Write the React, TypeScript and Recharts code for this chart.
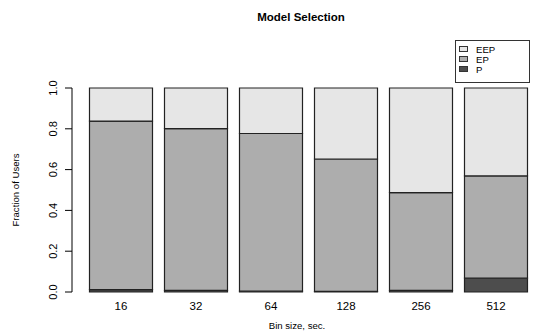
import React from 'react';
import { BarChart, Bar, XAxis, YAxis, Label } from 'recharts';

// share of users choosing each model, per bin size
const binSizes = ['16', '32', '64', '128', '256', '512'];
const pShare = [0.012, 0.008, 0.004, 0.003, 0.008, 0.068];
const epShare = [0.826, 0.793, 0.773, 0.649, 0.479, 0.501];
const eepShare = [0.162, 0.199, 0.223, 0.348, 0.513, 0.431];
const yTicks = [0, 0.2, 0.4, 0.6, 0.8, 1.0];

const series = [
  { key: 'P', fill: '#4d4d4d' },
  { key: 'EP', fill: '#adadad' },
  { key: 'EEP', fill: '#e6e6e6' },
];

const data = binSizes.map((bin, i) => ({
  bin,
  P: pShare[i],
  EP: epShare[i],
  EEP: eepShare[i],
}));

const FONT = '"Liberation Sans", Arial, Helvetica, sans-serif';

const YTick = ({ y, payload }: any) => (
  <text
    x={57}
    y={y}
    transform={`rotate(-90, 57, ${y})`}
    textAnchor="middle"
    fontSize={11}
    fontFamily={FONT}
    fill="#000"
  >
    {Number(payload.value).toFixed(1)}
  </text>
);

const XTick = ({ x, payload }: any) => (
  <text x={x} y={310} textAnchor="middle" fontSize={11.5} fontFamily={FONT} fill="#000">
    {payload.value}
  </text>
);

const App: React.FC = () => {
  const legendRows = [...series].reverse();
  return (
    <div style={{ position: 'absolute', left: 0, top: 0, width: 535, height: 331, background: '#fff' }}>
      <BarChart
        width={535}
        height={331}
        data={data}
        margin={{ top: 88, right: 1.5, bottom: 0, left: 0 }}
      >
        <XAxis
          dataKey="bin"
          axisLine={false}
          tickLine={false}
          height={39}
          padding={{ left: 11.5, right: 0 }}
          tick={<XTick />}
        >
          <Label
            content={() => (
              <text x={297} y={328.5} textAnchor="middle" fontSize={9.6} fontFamily={FONT} fill="#000">
                Bin size, sec.
              </text>
            )}
          />
        </XAxis>
        <YAxis
          type="number"
          domain={[0, 1]}
          ticks={yTicks}
          width={72}
          tickSize={7}
          axisLine={{ stroke: '#000' }}
          tickLine={{ stroke: '#000' }}
          tick={<YTick />}
        >
          <Label
            content={() => (
              <text
                x={19}
                y={190}
                transform="rotate(-90, 19, 190)"
                textAnchor="middle"
                fontSize={9.6}
                fontFamily={FONT}
                fill="#000"
              >
                Fraction of Users
              </text>
            )}
          />
        </YAxis>
        {series.map((s) => (
          <Bar
            key={s.key}
            dataKey={s.key}
            stackId="models"
            fill={s.fill}
            stroke="#222"
            strokeWidth={1.2}
            barSize={63}
            isAnimationActive={false}
          />
        ))}
      </BarChart>
      <svg
        width={535}
        height={331}
        style={{ position: 'absolute', left: 0, top: 0, pointerEvents: 'none' }}
      >
        <text x={301} y={21} textAnchor="middle" fontSize={11.5} fontWeight="bold" fontFamily={FONT} fill="#000">
          Model Selection
        </text>
        <rect x={455.5} y={40.5} width={74} height={42} fill="#fff" stroke="#333" strokeWidth={1} />
        {legendRows.map((s, i) => {
          const cy = 49 + i * 10;
          return (
            <g key={s.key}>
              <rect x={459.5} y={cy - 2.5} width={8} height={5} fill={s.fill} stroke="#333" strokeWidth={1} />
              <text x={476} y={cy + 3.5} fontSize={9.6} fontFamily={FONT} fill="#000">
                {s.key}
              </text>
            </g>
          );
        })}
      </svg>
    </div>
  );
};

export default App;
